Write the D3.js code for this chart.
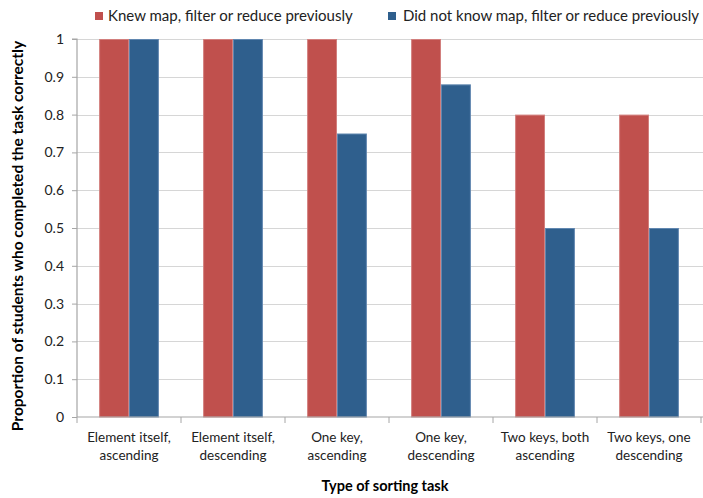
<!DOCTYPE html>
<html>
<head>
<meta charset="utf-8">
<script src="https://cdn.jsdelivr.net/npm/d3@7"></script>
<style>
  html, body { margin: 0; padding: 0; background: #fff; }
  svg { display: block; font-family: Lato, "Open Sans", sans-serif; }
</style>
</head>
<body>
<svg id="chart" width="703" height="498"></svg>
<script>
// Sorting-task completion rates by prior knowledge of map/filter/reduce
const categories = [
  ["Element itself,", "ascending"],
  ["Element itself,", "descending"],
  ["One key,", "ascending"],
  ["One key,", "descending"],
  ["Two keys, both", "ascending"],
  ["Two keys, one", "descending"]
];
const seriesNames = [
  "Knew map, filter or reduce previously",
  "Did not know map, filter or reduce previously"
];
const knewValues = [1, 1, 1, 1, 0.8, 0.8];
const didNotKnowValues = [1, 1, 0.75, 0.88, 0.5, 0.5];
const yTicks = [0, 0.1, 0.2, 0.3, 0.4, 0.5, 0.6, 0.7, 0.8, 0.9, 1];
const yTickLabels = ["0", "0.1", "0.2", "0.3", "0.4", "0.5", "0.6", "0.7", "0.8", "0.9", "1"];

const colors = ["#c0504d", "#2f5f8d"];
const edgeColors = ["#d27f7d", "#6187b0"];
const series = [knewValues, didNotKnowValues];

const svg = d3.select("#chart");
const plot = { left: 77, right: 701, top: 39, bottom: 417 };

const x = d3.scaleBand()
  .domain(d3.range(categories.length))
  .range([plot.left, plot.right])
  .paddingInner(0)
  .paddingOuter(0);

const xInner = d3.scaleBand()
  .domain(d3.range(series.length))
  .range([0, x.bandwidth()])
  .paddingInner(0)
  .paddingOuter(0.74);

const y = d3.scaleLinear().domain([0, 1]).range([plot.bottom, plot.top]);

// Horizontal gridlines
svg.append("g").selectAll("line")
  .data(yTicks.filter(v => v > 0))
  .join("line")
  .attr("x1", plot.left).attr("x2", 703)
  .attr("y1", d => Math.round(y(d)) + 0.5)
  .attr("y2", d => Math.round(y(d)) + 0.5)
  .attr("stroke", "#d6d6d6")
  .attr("stroke-width", 1);

// Bars
const groups = svg.append("g").selectAll("g")
  .data(categories.map((c, i) => i))
  .join("g")
  .attr("transform", i => `translate(${x(i)},0)`);

groups.selectAll("rect")
  .data(i => series.map((s, k) => ({ k, v: s[i] })))
  .join("rect")
  .attr("x", d => xInner(d.k) + 0.5)
  .attr("width", xInner.bandwidth() - 1)
  .attr("y", d => y(d.v) + 0.5)
  .attr("height", d => plot.bottom - y(d.v) - 0.5)
  .attr("fill", d => colors[d.k])
  .attr("stroke", d => edgeColors[d.k])
  .attr("stroke-width", 1);

// Y axis
const yAxis = d3.axisLeft(y)
  .tickValues(yTicks)
  .tickFormat((d, i) => yTickLabels[i])
  .tickSize(5)
  .tickPadding(8);

const gy = svg.append("g")
  .attr("transform", `translate(${plot.left},0)`)
  .call(yAxis);
gy.select(".domain").attr("stroke", "#a6a6a6").attr("stroke-width", 1.2)
  .attr("d", `M-5,${plot.top}H0V${plot.bottom}`);
gy.selectAll(".tick line").attr("stroke", "#a6a6a6");
gy.selectAll(".tick text")
  .attr("font-size", 14)
  .attr("fill", "#222")
  .style("font-family", "Lato, sans-serif");

// X axis with boundary ticks between categories
const gx = svg.append("g");
gx.append("line")
  .attr("x1", plot.left).attr("x2", 703)
  .attr("y1", plot.bottom).attr("y2", plot.bottom)
  .attr("stroke", "#a6a6a6").attr("stroke-width", 1.2);
gx.selectAll("line.b")
  .data(d3.range(categories.length + 1))
  .join("line")
  .attr("class", "b")
  .attr("x1", i => plot.left + i * x.step())
  .attr("x2", i => plot.left + i * x.step())
  .attr("y1", plot.bottom)
  .attr("y2", plot.bottom + 6)
  .attr("stroke", "#a6a6a6");

gx.selectAll("text")
  .data(categories)
  .join("text")
  .attr("x", (d, i) => x(i) + x.bandwidth() / 2)
  .attr("y", 442)
  .attr("text-anchor", "middle")
  .attr("font-size", 13.5)
  .attr("fill", "#222")
  .selectAll("tspan")
  .data(d => d)
  .join("tspan")
  .attr("x", function () { return d3.select(this.parentNode).attr("x"); })
  .attr("dy", (d, i) => i === 0 ? 0 : 18)
  .text(d => d);

// Axis titles
svg.append("text")
  .attr("x", 385).attr("y", 491)
  .attr("text-anchor", "middle")
  .attr("font-size", 14.5)
  .attr("font-weight", "bold")
  .attr("fill", "#000")
  .text("Type of sorting task");

svg.append("text")
  .attr("transform", `translate(23,236) rotate(-90)`)
  .attr("text-anchor", "middle")
  .attr("font-size", 15.5)
  .attr("font-weight", "bold")
  .attr("fill", "#000")
  .text("Proportion of students who completed the task correctly");

// Legend
const legendItems = [
  { x: 95, tx: 108 },
  { x: 388, tx: 403 }
];
const legend = svg.append("g").selectAll("g")
  .data(seriesNames)
  .join("g");
legend.append("rect")
  .attr("x", (d, i) => legendItems[i].x)
  .attr("y", 12)
  .attr("width", 8).attr("height", 8)
  .attr("fill", (d, i) => colors[i]);
legend.append("text")
  .attr("x", (d, i) => legendItems[i].tx)
  .attr("y", 21)
  .attr("font-size", 15)
  .attr("fill", "#222")
  .text(d => d);
</script>
</body>
</html>
